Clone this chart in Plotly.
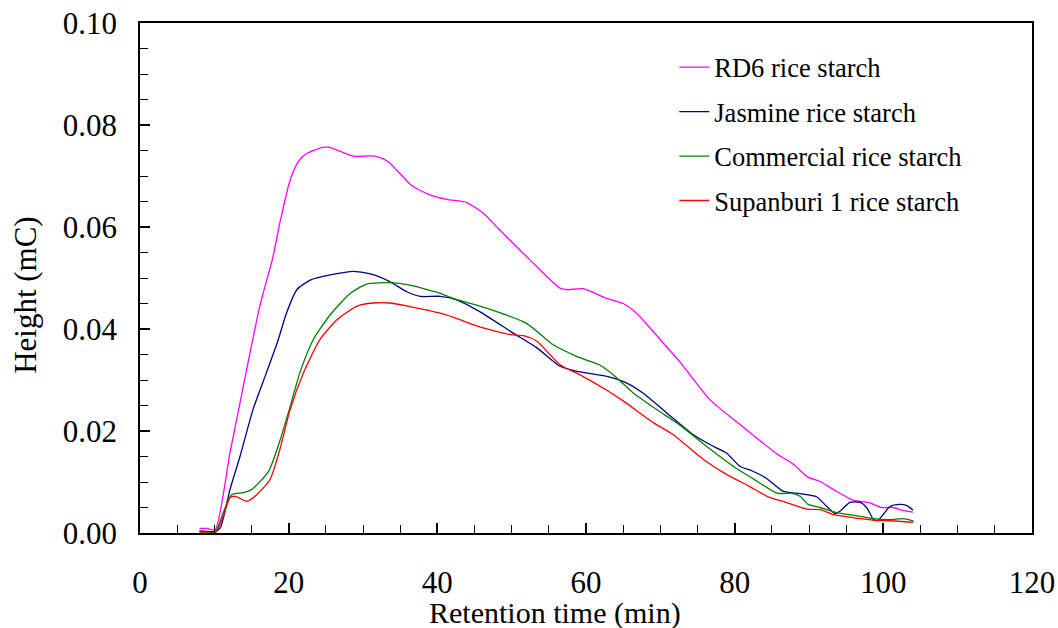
import plotly.graph_objects as go

# RD6 rice starch
rd6_x = [8.0, 9.0, 10.1, 12.1, 13.45, 16.1, 17.9, 18.8, 20.2, 21.3, 22.4, 24.6, 25.5, 28.7, 31.6, 33.4,
         36.5, 39.0, 41.3, 43.95, 46.2, 48.2, 52.5, 56.5, 57.6, 59.6, 62.8, 65.0, 66.8, 70.0, 72.6,
         76.7, 81.2, 85.7, 87.9, 89.8, 91.5, 93.3, 96.0, 98.0, 99.8, 101.3, 102.7, 104.0]
rd6_y = [0.0009, 0.0009, 0.0006, 0.0157, 0.0255, 0.0444, 0.0542, 0.0607, 0.0692, 0.0728, 0.0744, 0.0756,
         0.0756, 0.0739, 0.0739, 0.0728, 0.0682, 0.0663, 0.0654, 0.0648, 0.0627, 0.0597, 0.0535, 0.0480,
         0.0477, 0.0479, 0.0460, 0.0450, 0.0431, 0.0379, 0.0336, 0.0261, 0.0207, 0.0155, 0.0135, 0.0110,
         0.0101, 0.0085, 0.0064, 0.0060, 0.0050, 0.0050, 0.0044, 0.0041]

# Jasmine rice starch
jas_x = [8.0, 10.1, 10.8, 12.1, 13.45, 15.2, 17.0, 18.6, 19.7, 21.1, 22.9, 25.6, 28.7, 31.0, 33.6, 35.9,
         37.7, 40.4, 42.6, 45.7, 50.2, 53.4, 56.5, 58.8, 62.8, 65.5, 67.7, 70.9, 74.4, 77.1, 78.9, 80.7,
         82.3, 84.3, 86.5, 88.8, 91.0, 92.4, 93.5, 94.2, 95.5, 96.9, 97.8, 98.7, 99.3, 100.9, 102.2,
         103.1, 104.0]
jas_y = [0.0004, 0.0003, 0.0010, 0.0085, 0.0150, 0.0242, 0.0314, 0.0379, 0.0431, 0.0477, 0.0496, 0.0506,
         0.0513, 0.0508, 0.0493, 0.0473, 0.0464, 0.0464, 0.0457, 0.0434, 0.0392, 0.0363, 0.0327, 0.0317,
         0.0307, 0.0294, 0.0274, 0.0235, 0.0193, 0.0170, 0.0157, 0.0131, 0.0122, 0.0107, 0.0082, 0.0077,
         0.0071, 0.0052, 0.0038, 0.0043, 0.0060, 0.0060, 0.0049, 0.0026, 0.0025, 0.0052, 0.0056,
         0.0054, 0.0045]

# Commercial rice starch
com_x = [8.0, 10.1, 11.2, 12.3, 13.9, 15.0, 17.3, 18.8, 20.2, 21.5, 23.3, 25.6, 28.3, 30.5, 33.6, 36.3,
         40.4, 42.1, 46.6, 52.0, 55.6, 58.8, 61.9, 63.7, 66.4, 69.5, 72.6, 76.2, 79.8, 82.3, 85.7, 87.6,
         88.8, 89.9, 91.5, 93.7, 95.5, 98.7, 100.9, 102.5, 103.4, 104.1]
com_y = [0.0004, 0.0002, 0.0040, 0.0075, 0.0079, 0.0085, 0.0121, 0.0180, 0.0248, 0.0314, 0.0379, 0.0428,
         0.0470, 0.0488, 0.0491, 0.0486, 0.0470, 0.0460, 0.0441, 0.0411, 0.0369, 0.0346, 0.0329, 0.0310,
         0.0274, 0.0242, 0.0212, 0.0170, 0.0131, 0.0108, 0.0078, 0.0078, 0.0072, 0.0056, 0.0050, 0.0040,
         0.0036, 0.0028, 0.0026, 0.0028, 0.0026, 0.0023]

# Supanburi 1 rice starch
sup_x = [8.0, 10.1, 11.2, 12.1, 12.8, 14.4, 15.7, 17.5, 18.8, 20.2, 22.0, 24.2, 26.5, 29.2, 31.4, 33.6,
         36.3, 40.4, 43.1, 45.7, 49.8, 51.6, 53.4, 56.5, 59.2, 62.8, 65.0, 69.1, 71.7, 75.8, 78.9, 81.9,
         84.5, 86.5, 89.7, 91.5, 93.3, 94.6, 96.9, 98.7, 100.9, 104.0]
sup_y = [0.0002, 0.0000, 0.0033, 0.0069, 0.0072, 0.0062, 0.0075, 0.0105, 0.0163, 0.0242, 0.0314, 0.0379,
         0.0418, 0.0445, 0.0451, 0.0451, 0.0444, 0.0431, 0.0418, 0.0404, 0.0389, 0.0387, 0.0376, 0.0330,
         0.0310, 0.0280, 0.0259, 0.0216, 0.0193, 0.0144, 0.0115, 0.0092, 0.0071, 0.0062, 0.0047, 0.0046,
         0.0036, 0.0033, 0.0028, 0.0025, 0.0024, 0.0021]

series = [
    ("RD6 rice starch", rd6_x, rd6_y, "#FF00FF"),
    ("Jasmine rice starch", jas_x, jas_y, "#000080"),
    ("Commercial rice starch", com_x, com_y, "#008000"),
    ("Supanburi 1 rice starch", sup_x, sup_y, "#FF0000"),
]

x_ticks = [0, 20, 40, 60, 80, 100, 120]
y_ticks = [0.00, 0.02, 0.04, 0.06, 0.08, 0.10]

FONT = "Liberation Serif, Times New Roman, serif"

L, R, T, B = 140, 1032, 22.7, 533.5
PW, PH = R - L, B - T

fig = go.Figure()
for i, (name, xs, ys, col) in enumerate(series):
    fig.add_trace(go.Scatter(
        x=xs, y=ys, name=name, mode="lines",
        line=dict(color=col, width=1.3, shape="spline", smoothing=0.6),
        legendgroup=f"g{i}",
    ))

fig.update_layout(
    width=1058, height=628,
    margin=dict(l=L, r=1058 - R, t=T, b=628 - B, autoexpand=False),
    paper_bgcolor="white", plot_bgcolor="white",
    font=dict(family=FONT, color="black", size=31),
    showlegend=True,
    legend=dict(
        x=0.599, y=0.960, xanchor="left", yanchor="top",
        font=dict(family=FONT, size=26.5, color="black"),
        bgcolor="rgba(0,0,0,0)", borderwidth=0,
        tracegroupgap=7, itemwidth=30,
    ),
    xaxis=dict(
        range=[0, 120], tickvals=x_ticks, ticktext=[str(v) for v in x_ticks],
        ticks="inside", ticklen=10, tickwidth=1.5, tickcolor="black",
        minor=dict(dtick=5, ticks="inside", ticklen=8, tickwidth=1.2, tickcolor="black"),
        showline=True, linecolor="black", linewidth=1.5, mirror=True,
        showgrid=False, zeroline=False, automargin=False,
        tickfont=dict(family=FONT, size=31),
        ticklabelstandoff=21,
    ),
    yaxis=dict(
        range=[0, 0.10], tickvals=y_ticks, ticktext=[f"{v:.2f}" for v in y_ticks],
        ticks="inside", ticklen=10, tickwidth=1.5, tickcolor="black",
        minor=dict(dtick=0.005, ticks="inside", ticklen=8, tickwidth=1.2, tickcolor="black"),
        showline=True, linecolor="black", linewidth=1.5, mirror=True,
        showgrid=False, zeroline=False, automargin=False,
        tickfont=dict(family=FONT, size=31),
        ticklabelstandoff=15,
    ),
    annotations=[
        dict(text="Retention time (min)", xref="paper", yref="paper",
             x=(554.5 - L) / PW, y=-(613.5 - B) / PH, xanchor="center", yanchor="middle",
             showarrow=False, font=dict(family=FONT, size=30)),
        dict(text="Height (mC)", xref="paper", yref="paper",
             x=-(L - 26) / PW, y=(B - 295) / PH, xanchor="center", yanchor="middle",
             textangle=-90, showarrow=False, font=dict(family=FONT, size=31)),
    ],
)

fig.write_html("out.html")
